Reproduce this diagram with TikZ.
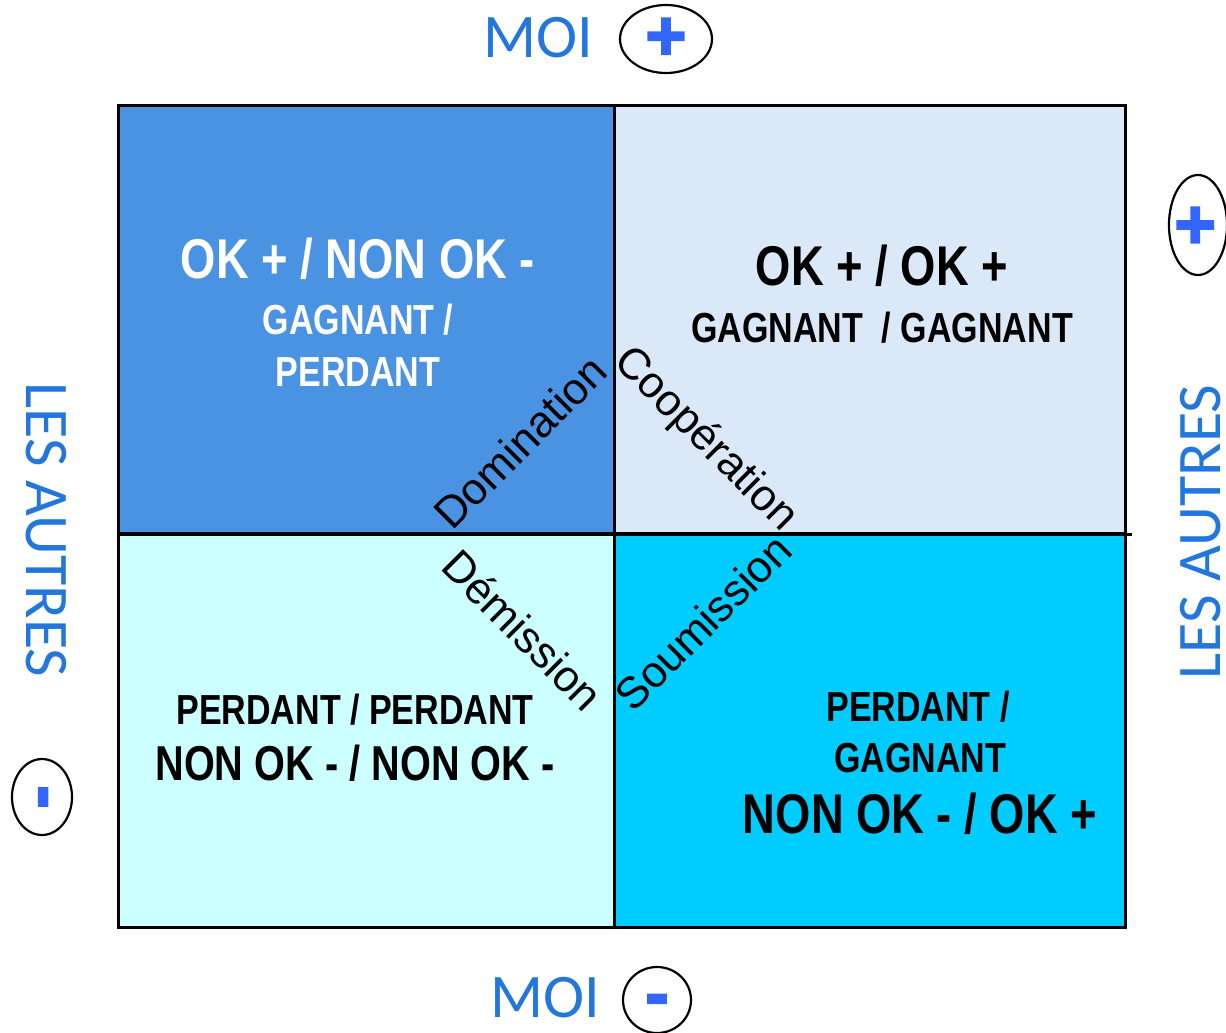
\documentclass[tikz,border=0pt]{standalone}
\usepackage{fontspec}
\setmainfont{Liberation Sans}
\newfontfamily\calib{Carlito}
\newfontfamily\narrowbf[FakeStretch=0.81]{Liberation Sans Bold}
\newfontfamily\signfont[FakeBold=3]{Liberation Sans Bold}
\usetikzlibrary{shapes.geometric,positioning}

\definecolor{quadTL}{RGB}{74,146,226}
\definecolor{quadTR}{RGB}{218,232,248}
\definecolor{quadBL}{RGB}{204,255,255}
\definecolor{quadBR}{RGB}{0,204,255}
\definecolor{axisblue}{RGB}{35,119,220}
\definecolor{signblue}{RGB}{51,102,255}

\begin{document}
\begin{tikzpicture}[
    x=1pt, y=-1pt,
    quad/.style={rectangle, draw, line width=2.5pt, anchor=north west, inner sep=0pt},
    big/.style={font=\narrowbf\fontsize{56}{60}\selectfont, anchor=base},
    mid/.style={font=\narrowbf\fontsize{42}{46}\selectfont, anchor=base},
    diag/.style={font=\fontsize{44}{48}\selectfont},
    axis/.style={font=\calib\fontsize{62}{66}\selectfont, text=axisblue, anchor=base},
    sign/.style={ellipse, draw, line width=2.2pt, inner sep=0pt, text=signblue, font=\signfont\fontsize{70}{70}\selectfont}
]
\useasboundingbox (0,0) rectangle (1226,1033);

% Quadrants
\node[quad, fill=quadTL, minimum width=496pt, minimum height=428pt] (TL) at (117,104) {};
\node[quad, fill=quadTR, minimum width=511pt, minimum height=428pt] (TR) at (613,104) {};
\node[quad, fill=quadBL, minimum width=496pt, minimum height=394pt] (BL) at (117,532) {};
\node[quad, fill=quadBR, minimum width=511pt, minimum height=394pt] (BR) at (613,532) {};
\draw[line width=2.5pt] (TL.south west) -- ([xshift=5pt]TR.south east);

% Quadrant texts
\node[big, text=white] (TLa) at (358,278) {OK + / NON OK -};
\node[mid, text=white] (TLb) at (358,334) {GAGNANT /};
\node[mid, text=white] (TLc) at (358,386) {PERDANT};
\node[big] (TRa) at (882,285) {OK + / OK +};
\node[mid] (TRb) at (882,342) {GAGNANT\ \ / GAGNANT};
\node[mid] (BLa) at (355,724) {PERDANT / PERDANT};
\node[big, font=\narrowbf\fontsize{49}{52}\selectfont] (BLb) at (355,780) {NON OK - / NON OK -};
\node[mid] (BRa) at (918,721) {PERDANT /};
\node[mid] (BRb) at (920,772) {GAGNANT};
\node[big] (BRc) at (920,833) {NON OK - / OK +};

% Diagonal labels
\node[diag, rotate=45] (dom) at (520,442) {Domination};
\node[diag, rotate=-45] (coop) at (705,440) {Coopération};
\node[diag, rotate=-45] (dem) at (523,630) {Démission};
\node[diag, rotate=45] (soum) at (703,622) {Soumission};

% Axes
\node[axis] (moiTop) at (538,58) {MOI};
\node[axis] (moiBot) at (545,1017) {MOI};
\node[axis, anchor=center, rotate=-90] (autLeft) at (46,530) {LES AUTRES};
\node[axis, anchor=center, rotate=90] (autRight) at (1201,532) {LES AUTRES};
\node[sign, minimum width=92pt, minimum height=68pt] (moiPlus) at (666,39) {+};
\node[sign, minimum width=68pt, minimum height=66pt] (moiMinus) at (657,1000) {\raisebox{-17pt}[0pt][0pt]{-}};
\node[sign, minimum width=76pt, minimum height=60pt, rotate=-90] (autMinus) at (42,797) {\raisebox{-17pt}[0pt][0pt]{-}};
\node[sign, minimum width=100pt, minimum height=56pt, rotate=90] (autPlus) at (1198,225) {+};

\end{tikzpicture}
\end{document}
